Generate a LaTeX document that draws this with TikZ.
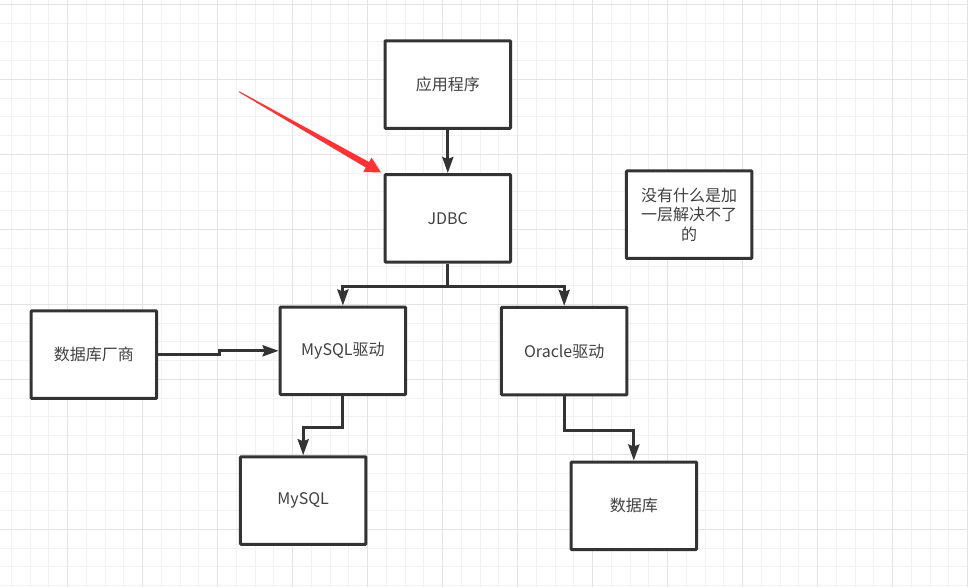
\documentclass[tikz,border=0pt]{standalone}
\usepackage{fontspec}
\setmainfont{Noto Sans CJK SC}
\usetikzlibrary{arrows.meta}
\definecolor{gridminor}{HTML}{F2F2F2}
\definecolor{gridmajor}{HTML}{E3E3E3}
\definecolor{ink}{HTML}{333333}
\definecolor{txt}{HTML}{404040}
\definecolor{redarrow}{HTML}{FF3333}
\tikzset{
  boxnode/.style={draw=ink, line width=3pt, fill=white, rectangle, rounded corners=0.8pt,
    minimum width=125.5pt, minimum height=87.5pt, inner sep=0pt,
    text=txt, font=\fontsize{16pt}{19.5pt}\selectfont, align=center},
  conn/.style={draw=ink, line width=3pt, -{Stealth[length=16pt,width=11pt,inset=2pt]}},
  minorline/.style={draw=gridminor, line width=1pt},
  majorline/.style={draw=gridmajor, line width=1pt}
}
\begin{document}
\begin{tikzpicture}[x=1pt,y=-1pt]
\useasboundingbox (0,0) rectangle (968,587);
\fill[white] (0,0) rectangle (968,587);
% grid
\foreach \k in {0,...,52} {\draw[minorline] ({-7.3+18.75*\k},0) -- ++(0,587);}
\foreach \k in {0,...,31} {\draw[minorline] (0,{4.3+18.75*\k}) -- ++(968,0);}
\foreach \k in {0,...,13} {\draw[majorline] ({-7.3+75*\k},0) -- ++(0,587);}
\foreach \k in {0,...,7} {\draw[majorline] (0,{4.3+75*\k}) -- ++(968,0);}
% boxes
\node[boxnode] (app) at (447.8,84.5) {应用程序};
\node[boxnode] (jdbc) at (447.8,218.3) {JDBC};
\node[boxnode] (mysqld) at (342.9,350.8) {MySQL驱动};
\node[boxnode] (oracle) at (564.2,351.1) {Oracle驱动};
\node[boxnode] (vendor) at (93.9,354.6) {数据库厂商};
\node[boxnode] (mysql) at (303.2,500.5) {MySQL};
\node[boxnode] (db) at (633.8,505.8) {数据库};
\node[boxnode] (note) at (689.2,214.7) {没有什么是加\\一层解决不了\\的};
% connectors
\draw[conn] (app.south) -- (jdbc.north);
\draw[conn] (jdbc.south) -- ++(0,22.5) -| (mysqld.north);
\draw[conn] (jdbc.south) -- ++(0,22.5) -| (oracle.north);
\draw[conn] (vendor.east) -- ++(61,0) |- (mysqld.west);
\draw[conn] (mysqld.south) -- ++(0,31) -| (mysql.north);
\draw[conn] (oracle.south) -- ++(0,34) -| (db.north);
% red pointer arrow
\coordinate (rstart) at (239,91.7);
\coordinate (rtip) at (381.0,172.5);
\fill[redarrow] (238.75,92.13) -- (365.8,167.6) -- (363.3,172.0) -- (rtip)
  -- (371.5,157.6) -- (369.0,162.0) -- (239.25,91.27) -- cycle;
\end{tikzpicture}
\end{document}
